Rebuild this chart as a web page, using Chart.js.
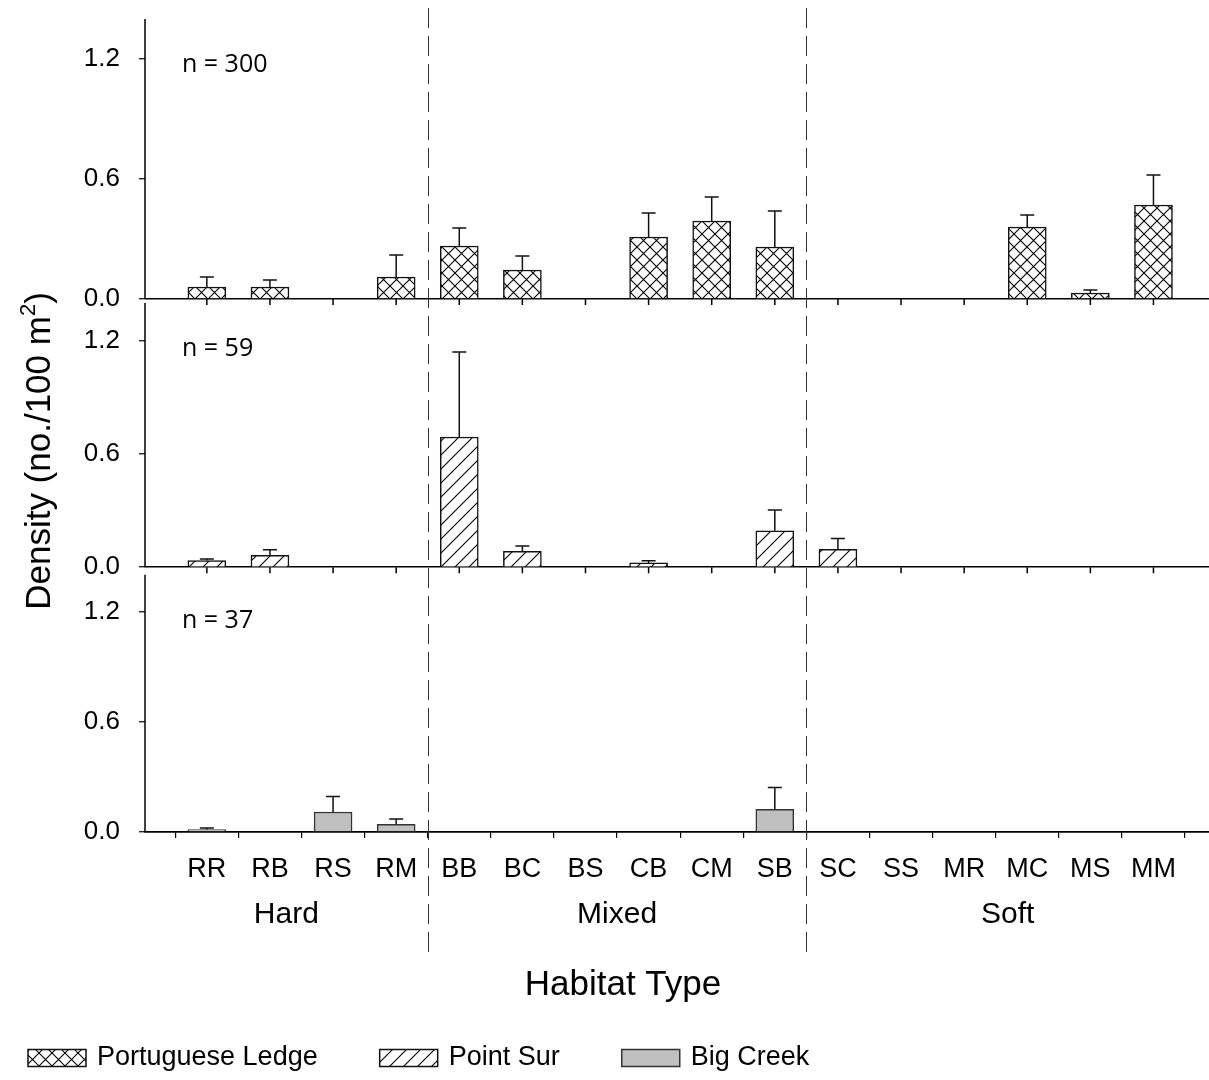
<!DOCTYPE html>
<html>
<head>
<meta charset="utf-8">
<title>Density by habitat type</title>
<script src="https://cdn.jsdelivr.net/npm/chart.js@4.4.1/dist/chart.umd.min.js"></script>
<style>
  html, body { margin: 0; padding: 0; background: #fff; }
  #chart { display: block; }
</style>
</head>
<body>
<canvas id="chart" width="1209" height="1080"></canvas>
<script>
// Habitat categories along the x axis
const habitats = ['RR', 'RB', 'RS', 'RM', 'BB', 'BC', 'BS', 'CB', 'CM', 'SB', 'SC', 'SS', 'MR', 'MC', 'MS', 'MM'];
const habitatGroups = ['Hard', 'Mixed', 'Soft'];
const groupBreaks = [3.5, 9.5];

const yTicks = [0, 0.6, 1.2];

// Mean density and +1 SE for each site
const portugueseLedge    = [0.06, 0.06, 0, 0.11, 0.265, 0.145, 0, 0.31, 0.39, 0.26, 0, 0, 0, 0.36, 0.03, 0.47];
const portugueseLedgeErr = [0.05, 0.035, 0, 0.11, 0.09, 0.07, 0, 0.12, 0.12, 0.18, 0, 0, 0, 0.06, 0.015, 0.15];
const pointSur           = [0.035, 0.063, 0, 0, 0.69, 0.084, 0, 0.023, 0, 0.193, 0.095, 0, 0, 0, 0, 0];
const pointSurErr        = [0.008, 0.03, 0, 0, 0.45, 0.028, 0, 0.011, 0, 0.11, 0.057, 0, 0, 0, 0, 0];
const bigCreek           = [0.013, 0, 0.109, 0.042, 0, 0, 0, 0, 0, 0.124, 0, 0, 0, 0, 0, 0];
const bigCreekErr        = [0.009, 0, 0.084, 0.029, 0, 0, 0, 0, 0, 0.118, 0, 0, 0, 0, 0, 0];

const siteNames = ['Portuguese Ledge', 'Point Sur', 'Big Creek'];
const sampleSizes = [300, 59, 37];

const FONT = 'Liberation Sans';
Chart.defaults.font.family = FONT;
Chart.defaults.color = '#000';

// Fill patterns for the bars
function hatchPattern(size, paint) {
  const tile = document.createElement('canvas');
  tile.width = tile.height = size;
  const g = tile.getContext('2d');
  g.fillStyle = '#fff';
  g.fillRect(0, 0, size, size);
  g.strokeStyle = '#000';
  g.lineWidth = 1.1;
  g.beginPath();
  paint(g, size);
  g.stroke();
  return g.createPattern(tile, 'repeat');
}

const crossHatch = hatchPattern(13, (g, s) => {
  g.moveTo(-1, -1); g.lineTo(s + 1, s + 1);
  g.moveTo(-1, s + 1); g.lineTo(s + 1, -1);
});
const slashHatch = hatchPattern(14, (g, s) => {
  g.moveTo(-1, s + 1); g.lineTo(s + 1, -1);
  g.moveTo(-1, 1); g.lineTo(1, -1);
  g.moveTo(s - 1, s + 1); g.lineTo(s + 1, s - 1);
});

const toPoints = arr => arr.map((v, i) => ({ x: i, y: v }));

function barSet(label, values, errors, axis, fill, edge) {
  return {
    label: label,
    data: toPoints(values),
    errors: errors,
    yAxisID: axis,
    backgroundColor: fill,
    borderColor: edge,
    borderWidth: 1.5,
    barThickness: 38,
    grouped: false
  };
}

function panelAxis(min, max, weight, order) {
  return {
    type: 'linear',
    position: 'left',
    stack: 'panels',
    stackWeight: weight,
    weight: order,
    min: min,
    max: max,
    offset: false,
    afterBuildTicks: s => { s.ticks = yTicks.map(v => ({ value: v })); },
    afterFit: s => {
      s.width = 145;
      s.paddingTop = 0;
      s.paddingBottom = 0;
    },
    border: { display: false },
    grid: {
      color: c => (c.tick && c.tick.value === 0 ? '#000' : 'rgba(0,0,0,0)'),
      lineWidth: 1.5,
      tickColor: '#000',
      tickWidth: 1.2,
      tickLength: 6
    },
    ticks: {
      callback: v => v.toFixed(1),
      padding: 19,
      font: { size: 26 }
    }
  };
}

// Whiskers, panel frames, dividers and text
const panelDecor = {
  id: 'panelDecor',
  afterDatasetsDraw(chart) {
    const ctx = chart.ctx;
    ctx.save();
    ctx.strokeStyle = '#111';
    ctx.lineWidth = 1.5;
    chart.data.datasets.forEach((ds, i) => {
      const scale = chart.scales[ds.yAxisID];
      chart.getDatasetMeta(i).data.forEach((bar, j) => {
        const err = ds.errors[j];
        if (!err) return;
        const top = scale.getPixelForValue(ds.data[j].y + err);
        ctx.beginPath();
        ctx.moveTo(bar.x, bar.y);
        ctx.lineTo(bar.x, top);
        ctx.moveTo(bar.x - 7, top);
        ctx.lineTo(bar.x + 7, top);
        ctx.stroke();
      });
    });
    ctx.restore();
  },
  afterDraw(chart) {
    const ctx = chart.ctx;
    const area = chart.chartArea;
    const x = chart.scales.x;
    const panels = ['y1', 'y2', 'y3'].map(id => chart.scales[id]);

    ctx.save();
    ctx.strokeStyle = '#000';
    ctx.lineWidth = 1.5;
    panels.forEach((s, p) => {
      const base = s.getPixelForValue(0);
      ctx.beginPath();
      ctx.moveTo(area.left, s.getPixelForValue(1.4));
      ctx.lineTo(area.left, base);
      if (p < 2) {
        x.ticks.forEach(t => {
          const px = x.getPixelForValue(t.value);
          ctx.moveTo(px, base);
          ctx.lineTo(px, base + 6);
        });
      }
      ctx.stroke();
    });

    // group dividers
    ctx.strokeStyle = '#333';
    ctx.lineWidth = 1;
    ctx.setLineDash([20, 8]);
    groupBreaks.forEach(b => {
      const px = Math.round(x.getPixelForValue(b)) + 0.5;
      ctx.beginPath();
      ctx.moveTo(px, 8);
      ctx.lineTo(px, 958);
      ctx.stroke();
    });
    ctx.setLineDash([]);

    // sample sizes
    ctx.fillStyle = '#000';
    ctx.textBaseline = 'middle';
    ctx.textAlign = 'left';
    ctx.font = '25px "Open Sans"';
    panels.forEach((s, p) => {
      ctx.fillText('n = ' + sampleSizes[p], area.left + 37, s.getPixelForValue(1.4) + 46);
    });

    // habitat group labels
    const edges = [area.left, ...groupBreaks.map(b => x.getPixelForValue(b)), area.right];
    ctx.textAlign = 'center';
    ctx.font = '30px ' + FONT;
    habitatGroups.forEach((g, i) => {
      ctx.fillText(g, (edges[i] + edges[i + 1]) / 2, 915);
    });

    ctx.font = '35px ' + FONT;
    ctx.fillText('Habitat Type', 623, 985);

    // y title with superscript
    ctx.save();
    ctx.translate(38, 451);
    ctx.rotate(-Math.PI / 2);
    const main = 'Density (no./100 m';
    ctx.font = '35px ' + FONT;
    const w1 = ctx.measureText(main).width;
    const w3 = ctx.measureText(')').width;
    ctx.font = '22px ' + FONT;
    const w2 = ctx.measureText('2').width;
    const cx = -(w1 + w2 + w3) / 2;
    ctx.textAlign = 'left';
    ctx.textBaseline = 'alphabetic';
    ctx.font = '35px ' + FONT;
    ctx.fillText(main, cx, 12);
    ctx.font = '22px ' + FONT;
    ctx.fillText('2', cx + w1, -3);
    ctx.font = '35px ' + FONT;
    ctx.fillText(')', cx + w1 + w2, 12);
    ctx.restore();

    // legend
    ctx.font = '27px ' + FONT;
    ctx.textBaseline = 'middle';
    ctx.textAlign = 'left';
    let lx = 28;
    const ly = 1058;
    chart.data.datasets.forEach(ds => {
      ctx.fillStyle = ds.backgroundColor;
      ctx.fillRect(lx, ly - 8.5, 58, 17);
      ctx.strokeStyle = ds.borderColor;
      ctx.lineWidth = 1.5;
      ctx.strokeRect(lx, ly - 8.5, 58, 17);
      ctx.fillStyle = '#000';
      ctx.fillText(ds.label, lx + 69, ly);
      lx += 69 + ctx.measureText(ds.label).width + 62;
    });
    ctx.restore();
  }
};

new Chart(document.getElementById('chart'), {
  type: 'bar',
  data: {
    datasets: [
      barSet(siteNames[0], portugueseLedge, portugueseLedgeErr, 'y1', crossHatch, '#111'),
      barSet(siteNames[1], pointSur, pointSurErr, 'y2', slashHatch, '#111'),
      barSet(siteNames[2], bigCreek, bigCreekErr, 'y3', '#c0c0c0', '#333')
    ]
  },
  options: {
    responsive: false,
    devicePixelRatio: 1,
    animation: false,
    layout: { padding: { top: 19, right: 0, bottom: 0, left: 0 } },
    plugins: {
      legend: { display: false },
      tooltip: { enabled: false }
    },
    scales: {
      x: {
        type: 'linear',
        min: -0.98,
        max: 15.88,
        offset: false,
        afterBuildTicks: s => { s.ticks = habitats.map((_, i) => ({ value: i })); },
        afterFit: s => { s.height = 248; },
        border: { display: true, color: '#000', width: 1.5 },
        grid: { drawOnChartArea: false, color: '#000', lineWidth: 1.2, tickLength: 6 },
        ticks: {
          autoSkip: false,
          maxRotation: 0,
          padding: 15,
          font: { size: 27 },
          callback: v => habitats[v] ?? ''
        }
      },
      y1: panelAxis(-0.02, 1.4, 284, 3),
      y2: panelAxis(-0.02, 1.4, 268, 2),
      y3: panelAxis(0, 1.42, 261, 1)
    }
  },
  plugins: [panelDecor]
});
</script>
</body>
</html>
